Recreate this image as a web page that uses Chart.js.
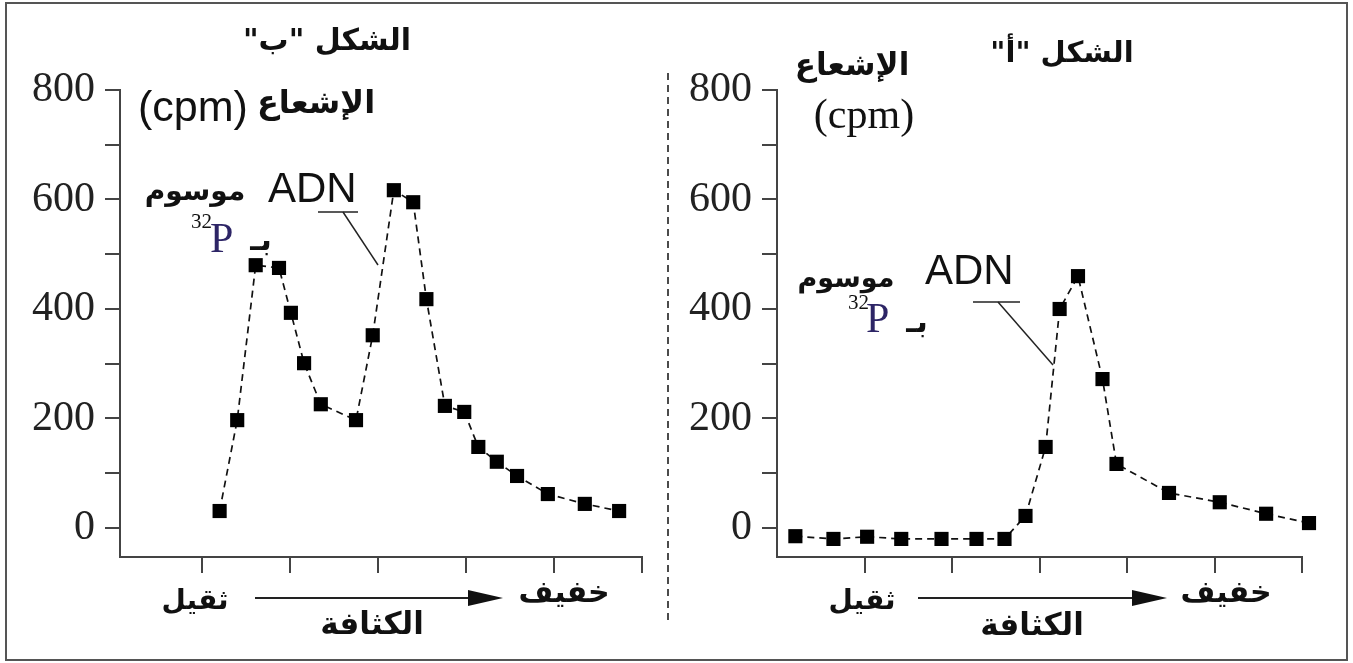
<!DOCTYPE html>
<html>
<head>
<meta charset="utf-8">
<script src="https://cdn.jsdelivr.net/npm/chart.js@4.4.1/dist/chart.umd.min.js"></script>
<style>
  html, body { margin: 0; padding: 0; background: #fff; }
  #wrap { position: relative; width: 1353px; height: 663px; overflow: hidden; background: #fff; }
  canvas { position: absolute; top: 0; }
  #cB { left: 0; }
  #cA { left: 668px; }
  svg { position: absolute; left: 0; top: 0; pointer-events: none; }
  .t { position: absolute; white-space: nowrap; color: #111; line-height: 1; transform: translate(-50%, -50%); }
  .l { transform: translate(0, -50%); }
  .ar { font-family: "DejaVu Sans", sans-serif; direction: rtl; font-weight: bold; }
  .sans { font-family: "Liberation Sans", Arial, sans-serif; }
  .serif { font-family: "Liberation Serif", "Times New Roman", serif; }
</style>
</head>
<body>
<div id="wrap">
  <canvas id="cB" width="668" height="663"></canvas>
  <canvas id="cA" width="685" height="663"></canvas>

  <svg width="1353" height="663">
    <!-- cadre -->
    <rect x="6" y="3" width="1341" height="657" fill="none" stroke="#555" stroke-width="2"/>
    <!-- séparateur -->
    <line x1="668" y1="73" x2="668" y2="620" stroke="#111" stroke-width="1.5" stroke-dasharray="7,5"/>
    <!-- flèches densité -->
    <line x1="255" y1="598" x2="472" y2="598" stroke="#222" stroke-width="2"/>
    <polygon points="468,590 503,598 468,606" fill="#111"/>
    <line x1="918" y1="598" x2="1136" y2="598" stroke="#222" stroke-width="2"/>
    <polygon points="1132,590 1167,598 1132,606" fill="#111"/>
    <!-- renvois ADN -->
    <line x1="318" y1="212" x2="358" y2="212" stroke="#222" stroke-width="1.5"/>
    <line x1="343" y1="212" x2="378" y2="265" stroke="#222" stroke-width="1.5"/>
    <line x1="973" y1="302" x2="1020" y2="302" stroke="#222" stroke-width="1.5"/>
    <line x1="998" y1="302" x2="1053" y2="365" stroke="#222" stroke-width="1.5"/>
  </svg>

  <!-- الشكل ب -->
  <div class="t ar" style="left:327px;top:40px;font-size:30px;">الشكل "ب"</div>
  <div class="t sans l" style="left:138px;top:106px;font-size:43px;">(cpm)</div>
  <div class="t ar" style="left:316px;top:102px;font-size:32px;">الإشعاع</div>
  <div class="t sans l" style="left:268px;top:188px;font-size:42px;">ADN</div>
  <div class="t ar" style="left:195px;top:191px;font-size:28px;">موسوم</div>
  <div class="t serif l" style="left:191px;top:221px;font-size:21px;">32</div>
  <div class="t serif l" style="left:210px;top:238px;font-size:42px;color:#2d2566;">P</div>
  <div class="t ar" style="left:261px;top:240px;font-size:30px;">بـ</div>
  <div class="t ar" style="left:195px;top:600px;font-size:28px;">ثقيل</div>
  <div class="t ar" style="left:564px;top:592px;font-size:30px;">خفيف</div>
  <div class="t ar" style="left:372px;top:623px;font-size:31px;">الكثافة</div>

  <!-- الشكل أ -->
  <div class="t ar" style="left:1062px;top:52px;font-size:29px;">الشكل "أ"</div>
  <div class="t ar" style="left:852px;top:64px;font-size:31px;">الإشعاع</div>
  <div class="t serif" style="left:864px;top:114px;font-size:42px;">(cpm)</div>
  <div class="t sans l" style="left:925px;top:270px;font-size:42px;">ADN</div>
  <div class="t ar" style="left:846px;top:277px;font-size:27px;">موسوم</div>
  <div class="t serif l" style="left:848px;top:302px;font-size:21px;">32</div>
  <div class="t serif l" style="left:866px;top:318px;font-size:42px;color:#2d2566;">P</div>
  <div class="t ar" style="left:917px;top:322px;font-size:30px;">بـ</div>
  <div class="t ar" style="left:862px;top:600px;font-size:28px;">ثقيل</div>
  <div class="t ar" style="left:1226px;top:592px;font-size:30px;">خفيف</div>
  <div class="t ar" style="left:1032px;top:624px;font-size:31px;">الكثافة</div>
</div>

<script>
// positions des fractions (unités = graduations de l'axe de densité)
var xB = [1.20, 1.40, 1.61, 1.875, 2.01, 2.16, 2.35, 2.75, 2.94, 3.18, 3.40, 3.55, 3.76, 3.98, 4.14, 4.35, 4.58, 4.93, 5.35, 5.74];
// radioactivité cpm - figure ب
var yB = [31, 197, 480, 475, 393, 301, 226, 197, 352, 617, 595, 418, 223, 212, 148, 121, 95, 62, 44, 31];

var xA = [0.21, 0.645, 1.03, 1.42, 1.88, 2.28, 2.60, 2.84, 3.07, 3.23, 3.44, 3.72, 3.88, 4.48, 5.06, 5.59, 6.08];
// radioactivité cpm - figure أ
var yA = [-15, -20, -16, -20, -20, -20, -20, 22, 148, 400, 460, 272, 117, 64, 47, 26, 9];

var yTicks = [0, 100, 200, 300, 400, 500, 600, 700, 800];
var yTickLabels = ['0', '', '200', '', '400', '', '600', '', '800'];
var xTicks = [1, 2, 3, 4, 5, 6];

var AX = '#444';

function makeChart(id, xs, ys, xMin, yAxisWidth, padRight) {
  var pts = xs.map(function (x, i) { return { x: x, y: ys[i] }; });
  return new Chart(document.getElementById(id), {
    type: 'scatter',
    data: {
      datasets: [{
        data: pts,
        showLine: true,
        borderColor: '#111',
        borderWidth: 1.7,
        borderDash: [7, 5],
        pointStyle: 'rect',
        pointRadius: 10,
        pointHoverRadius: 10,
        pointBackgroundColor: '#000',
        pointBorderWidth: 0,
        tension: 0,
        clip: false
      }]
    },
    options: {
      responsive: false,
      animation: false,
      devicePixelRatio: 1,
      layout: { padding: { top: 90, right: padRight, left: 0, bottom: 0 } },
      plugins: { legend: { display: false }, tooltip: { enabled: false } },
      scales: {
        x: {
          type: 'linear', min: xMin, max: 6,
          afterBuildTicks: function (s) { s.ticks = xTicks.map(function (v) { return { value: v }; }); },
          afterFit: function (s) { s.height = 106; },
          ticks: { autoSkip: false, callback: function () { return ''; } },
          grid: { drawOnChartArea: false, drawTicks: true, tickLength: 16, color: AX, lineWidth: 2 },
          border: { color: AX, width: 2 }
        },
        y: {
          type: 'linear', min: -53, max: 800,
          afterBuildTicks: function (s) { s.ticks = yTicks.map(function (v) { return { value: v }; }); },
          afterFit: function (s) { s.width = yAxisWidth; },
          ticks: {
            autoSkip: false, padding: 10, color: '#222',
            font: { family: '"Liberation Serif", "Times New Roman", serif', size: 42 },
            callback: function (v) { var i = yTicks.indexOf(v); return i >= 0 ? yTickLabels[i] : ''; }
          },
          grid: { drawOnChartArea: false, drawTicks: true, tickLength: 15, color: AX, lineWidth: 2 },
          border: { color: AX, width: 2 }
        }
      }
    }
  });
}

makeChart('cB', xB, yB, 0.068, 120, 26);
makeChart('cA', xA, yA, 0, 109, 51);
</script>
</body>
</html>
